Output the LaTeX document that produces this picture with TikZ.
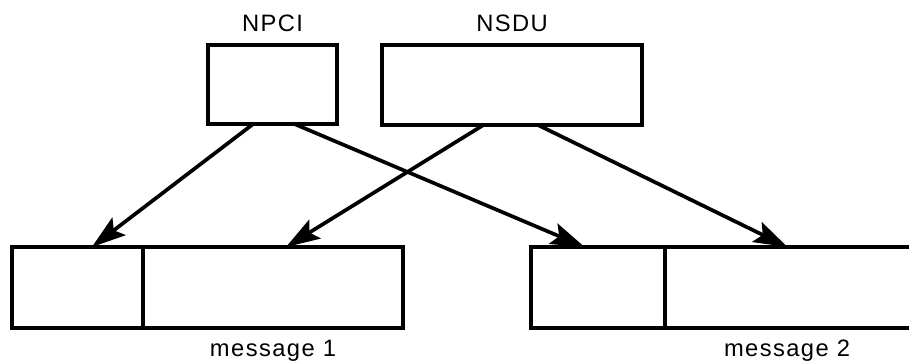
\documentclass[tikz,border=0pt]{standalone}
\usepackage{fontspec}
\setmainfont{Liberation Sans}
\usepackage{tikz}
\usetikzlibrary{arrows.meta,positioning,calc}
\tikzset{% 
  pdu box/.style={%
    draw,
    line width=1.9pt,
    inner sep=0pt,
    outer sep=0pt
  }
}
\tikzset{% 
  pdu label/.style={%
    inner sep=0pt,
    font=\fontsize{13.5}{16}\selectfont\addfontfeature{LetterSpace=6}
  }
}
\tikzset{% 
  maps to/.style={%
    line width=2.1pt,
    -{Stealth[length=6.8mm,width=4.4mm,inset=1.3mm]}
  }
}

\begin{document}
\begin{tikzpicture}[x=0.2mm,y=-0.2mm]
  \useasboundingbox (0,0) rectangle (909,361);
  \clip (0,0) rectangle (909,361);
  % upper layer
  \node [pdu box, minimum width=25.8mm, minimum height=15.8mm] (npci) at (272.5, 84.5) {};
  \node [pdu box, minimum width=52mm, minimum height=16mm] (nsdu) at (512, 85) {};
  \node [pdu label, above=2.6mm of npci] (npcilbl) {NPCI};
  \node [pdu label, above=2.6mm of nsdu] (nsdulbl) {NSDU};
  % two messages
  \node [pdu box, minimum width=26.2mm, minimum height=16.2mm] (hdra) at (77.5, 287.5) {};
  \node [pdu box, minimum width=52mm, minimum height=16.2mm, right=0pt of hdra] (dataa) {};
  \node [pdu box, minimum width=26.8mm, minimum height=16.2mm] (hdrb) at (598, 287.5) {};
  \node [pdu box, minimum width=50mm, minimum height=16.2mm, right=0pt of hdrb] (datab) {};
  \node [pdu label, below=2.4mm of dataa] (msga) {message 1};
  \node [pdu label, below=2.4mm of datab, xshift=-0.6mm] (msgb) {message 2};
  % mapping
  \draw [maps to] ($(npci.south west)!0.35!(npci.south east)$) to ($(hdra.north west)!0.61!(hdra.north east)$);
  \draw [maps to] ($(npci.south west)!0.67!(npci.south east)$) to ($(hdrb.north west)!0.40!(hdrb.north east)$);
  \draw [maps to] ($(nsdu.south west)!0.39!(nsdu.south east)$) to ($(dataa.north west)!0.55!(dataa.north east)$);
  \draw [maps to] ($(nsdu.south west)!0.60!(nsdu.south east)$) to ($(datab.north west)!0.49!(datab.north east)$);
\end{tikzpicture}
\end{document}
